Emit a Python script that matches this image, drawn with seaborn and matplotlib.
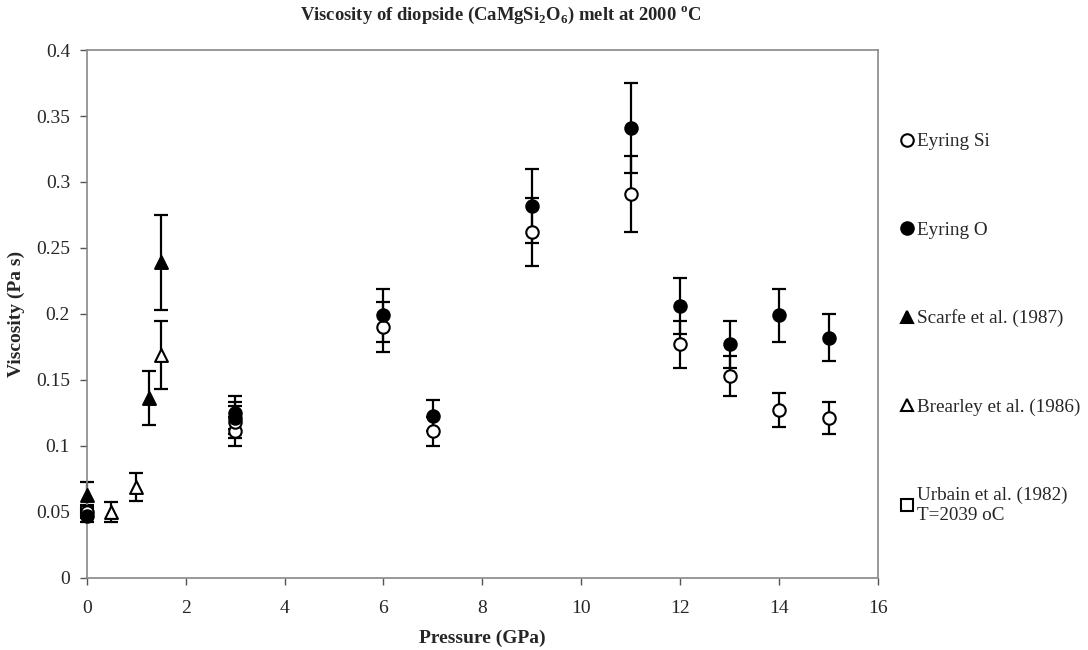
import numpy as np
import pandas as pd
import seaborn as sns
import matplotlib.pyplot as plt
from matplotlib.lines import Line2D
from matplotlib.ticker import FuncFormatter

# values (pressure in GPa, viscosity in Pa s)
si_p = [0, 3, 3, 6, 7, 9, 11, 12, 13, 14, 15]
si_visc = [0.050, 0.111, 0.118, 0.190, 0.111, 0.262, 0.291, 0.177, 0.153, 0.127, 0.121]
si_err = [0.005, 0.011, 0.012, 0.019, 0.011, 0.026, 0.029, 0.018, 0.015, 0.013, 0.012]

o_p = [0, 3, 3, 6, 7, 9, 11, 12, 13, 14, 15]
o_visc = [0.047, 0.121, 0.125, 0.199, 0.123, 0.282, 0.341, 0.206, 0.177, 0.199, 0.182]
o_err = [0.005, 0.012, 0.0125, 0.020, 0.012, 0.028, 0.034, 0.021, 0.018, 0.020, 0.018]

scarfe_p = [0, 1.25, 1.5]
scarfe_visc = [0.063, 0.136, 0.239]
scarfe_err = [0.0095, 0.0205, 0.036]

brearley_p = [0.5, 1.0, 1.5]
brearley_visc = [0.050, 0.069, 0.169]
brearley_err = [0.0075, 0.0105, 0.0255]

urbain_p = [0]
urbain_visc = [0.050]
urbain_err = [0.0]

labels = ['Eyring Si', 'Eyring O', 'Scarfe et al. (1987)', 'Brearley et al. (1986)',
          'Urbain et al. (1982)\nT=2039 oC']

sns.set_style('ticks')
plt.rcParams['font.family'] = ['Liberation Serif', 'DejaVu Serif']
plt.rcParams['mathtext.fontset'] = 'custom'
plt.rcParams['mathtext.rm'] = 'Liberation Serif'
plt.rcParams['mathtext.bf'] = 'Liberation Serif:bold'

frames = []
for name, p, v, e in [(labels[0], si_p, si_visc, si_err),
                      (labels[1], o_p, o_visc, o_err),
                      (labels[2], scarfe_p, scarfe_visc, scarfe_err),
                      (labels[3], brearley_p, brearley_visc, brearley_err),
                      (labels[4], urbain_p, urbain_visc, urbain_err)]:
    frames.append(pd.DataFrame({'series': name, 'P': p, 'visc': v, 'err': e}))
df = pd.concat(frames, ignore_index=True)

# marker, face colour per series
styles = {labels[0]: ('o', 'white'), labels[1]: ('o', 'black'),
          labels[2]: ('^', 'black'), labels[3]: ('^', 'white'),
          labels[4]: ('s', 'white')}

fig = plt.figure(figsize=(10.88, 6.5), dpi=100)
ax = fig.add_axes([0.0797, 0.111, 0.7273, 0.812])

# draw order: urbain, brearley, scarfe, si, o
for name in [labels[4], labels[3], labels[2], labels[0], labels[1]]:
    sub = df[df['series'] == name]
    ax.errorbar(sub['P'], sub['visc'], yerr=sub['err'], fmt='none', ecolor='black',
                elinewidth=1.6, capsize=5, capthick=1.6, zorder=2, clip_on=False)
    mk, fc = styles[name]
    sns.scatterplot(data=sub, x='P', y='visc', marker=mk, color=fc, edgecolor='black',
                    linewidth=1.5, s=80 if mk == 'o' else 85, ax=ax, zorder=3,
                    legend=False, clip_on=False)

ax.set_xlim(0, 16)
ax.set_ylim(0, 0.4)
ax.set_xticks(np.arange(0, 17, 2))
ax.set_yticks(np.arange(0, 0.41, 0.05))
ax.yaxis.set_major_formatter(FuncFormatter(lambda v, pos: '%g' % round(v, 2)))
ax.tick_params(labelsize=14, length=5, width=1, color='#555555')
ax.tick_params(axis='x', pad=11)
ax.tick_params(axis='y', pad=7)
for sp in ax.spines.values():
    sp.set_color('#888888')
    sp.set_linewidth(1.2)

ax.set_xlabel('Pressure (GPa)', fontsize=14, fontweight='bold', labelpad=9)
ax.set_ylabel('Viscosity (Pa s)', fontsize=14, fontweight='bold', labelpad=8)

fig.text(0.46, 0.977, r'Viscosity of diopside (CaMgSi$_\mathbf{2}$O$_\mathbf{6}$) melt at 2000 $^\mathbf{o}$C',
         ha='center', va='center', fontsize=13.4, fontweight='bold')

handles = []
for name in labels:
    mk, fc = styles[name]
    handles.append(Line2D([], [], linestyle='none', marker=mk, markerfacecolor=fc,
                          markeredgecolor='black', markeredgewidth=1.5, markersize=9))
ax.legend(handles, labels, loc='center left', bbox_to_anchor=(0.819, 0.495),
          bbox_transform=fig.transFigure, frameon=False, fontsize=13.8,
          labelspacing=3.7, handletextpad=0.15, handlelength=0.7, borderpad=0)

fig.savefig('out.png', dpi=100)
